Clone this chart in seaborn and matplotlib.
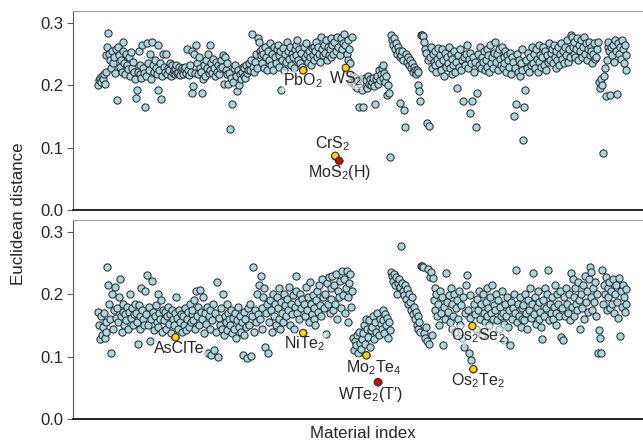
import pandas as pd
import matplotlib.pyplot as plt
import seaborn as sns

OUTPUT_PATH = "out.png"

# Euclidean distance per material, upper panel (one row ~ ten materials)
TOP_DISTANCE = [
    0.200, 0.208, 0.212, 0.205, 0.215, 0.210, 0.218, 0.202, 0.222, 0.248,
    0.262, 0.283, 0.250, 0.240, 0.228, 0.255, 0.235, 0.245, 0.220, 0.258,
    0.177, 0.262, 0.248, 0.230, 0.240, 0.222, 0.255, 0.270, 0.235, 0.218,
    0.250, 0.232, 0.226, 0.245, 0.215, 0.253, 0.228, 0.238, 0.222, 0.210,
    0.180, 0.193, 0.222, 0.255, 0.218, 0.232, 0.212, 0.265, 0.228, 0.220,
    0.165, 0.215, 0.268, 0.235, 0.225, 0.250, 0.210, 0.270, 0.232, 0.222,
    0.240, 0.228, 0.218, 0.265, 0.192, 0.225, 0.235, 0.178, 0.215, 0.250,
    0.230, 0.222, 0.250, 0.218, 0.228, 0.225, 0.235, 0.215, 0.232, 0.220,
    0.225, 0.218, 0.228, 0.232, 0.220, 0.222, 0.230, 0.216, 0.224, 0.228,
    0.218, 0.226, 0.230, 0.220, 0.258, 0.225, 0.216, 0.232, 0.222, 0.255,
    0.188, 0.198, 0.250, 0.220, 0.265, 0.235, 0.218, 0.245, 0.228, 0.222,
    0.188, 0.210, 0.232, 0.215, 0.240, 0.228, 0.250, 0.220, 0.265, 0.225,
    0.235, 0.220, 0.242, 0.228, 0.215, 0.238, 0.222, 0.232, 0.218, 0.228,
    0.240, 0.230, 0.248, 0.202, 0.245, 0.225, 0.218, 0.235, 0.202, 0.220,
    0.130, 0.212, 0.170, 0.205, 0.228, 0.232, 0.215, 0.190, 0.225, 0.200,
    0.218, 0.210, 0.222, 0.230, 0.215, 0.228, 0.212, 0.232, 0.220, 0.225,
    0.235, 0.225, 0.240, 0.282, 0.230, 0.222, 0.238, 0.250, 0.228, 0.275,
    0.270, 0.255, 0.248, 0.235, 0.258, 0.250, 0.228, 0.262, 0.245, 0.225,
    0.255, 0.240, 0.268, 0.232, 0.250, 0.225, 0.262, 0.245, 0.235, 0.258,
    0.265, 0.248, 0.230, 0.255, 0.192, 0.240, 0.260, 0.225, 0.250, 0.238,
    0.270, 0.255, 0.242, 0.262, 0.232, 0.250, 0.245, 0.228, 0.258, 0.265,
    0.248, 0.272, 0.240, 0.258, 0.235, 0.252, 0.230, 0.224, 0.262, 0.245,
    0.268, 0.250, 0.238, 0.255, 0.245, 0.232, 0.260, 0.248, 0.262, 0.240,
    0.255, 0.270, 0.245, 0.262, 0.250, 0.238, 0.278, 0.258, 0.248, 0.265,
    0.252, 0.272, 0.240, 0.262, 0.248, 0.258, 0.275, 0.245, 0.265, 0.250,
    0.270, 0.087, 0.255, 0.278, 0.262, 0.079, 0.248, 0.275, 0.258, 0.268,
    0.282, 0.265, 0.228, 0.250, 0.272, 0.240, 0.258, 0.235, 0.205, 0.278,
    0.215, 0.205, 0.198, 0.212, 0.195, 0.208, 0.165, 0.202, 0.210, 0.192,
    0.165, 0.205, 0.212, 0.198, 0.208, 0.195, 0.215, 0.202, 0.210, 0.200,
    0.205, 0.212, 0.198, 0.170, 0.210, 0.215, 0.202, 0.225, 0.208, 0.218,
    0.228, 0.212, 0.232, 0.220, 0.205, 0.215, 0.185, 0.200, 0.188, 0.085,
    0.280, 0.272, 0.265, 0.275, 0.258, 0.268, 0.250, 0.262, 0.255, 0.245,
    0.172, 0.248, 0.255, 0.240, 0.160, 0.133, 0.250, 0.238, 0.245, 0.232,
    0.240, 0.228, 0.235, 0.222, 0.230, 0.225, 0.218, 0.225, 0.200, 0.222,
    0.190, 0.175, 0.280, 0.281, 0.279, 0.270, 0.258, 0.252, 0.140, 0.240,
    0.135, 0.245, 0.262, 0.228, 0.250, 0.238, 0.232, 0.255, 0.222, 0.242,
    0.260, 0.235, 0.248, 0.225, 0.258, 0.240, 0.215, 0.252, 0.230, 0.245,
    0.235, 0.262, 0.228, 0.250, 0.218, 0.242, 0.232, 0.255, 0.222, 0.238,
    0.195, 0.248, 0.230, 0.258, 0.225, 0.240, 0.175, 0.245, 0.232, 0.250,
    0.265, 0.228, 0.242, 0.155, 0.252, 0.235, 0.175, 0.245, 0.222, 0.238,
    0.133, 0.188, 0.250, 0.232, 0.262, 0.228, 0.245, 0.238, 0.255, 0.225,
    0.240, 0.258, 0.230, 0.248, 0.222, 0.265, 0.235, 0.245, 0.228, 0.252,
    0.270, 0.238, 0.250, 0.225, 0.258, 0.242, 0.232, 0.262, 0.228, 0.245,
    0.235, 0.255, 0.222, 0.248, 0.240, 0.230, 0.252, 0.218, 0.245, 0.238,
    0.151, 0.228, 0.170, 0.250, 0.222, 0.240, 0.215, 0.235, 0.258, 0.225,
    0.112, 0.165, 0.193, 0.240, 0.228, 0.252, 0.222, 0.245, 0.232, 0.262,
    0.235, 0.250, 0.228, 0.258, 0.242, 0.222, 0.265, 0.238, 0.248, 0.230,
    0.245, 0.262, 0.232, 0.255, 0.225, 0.248, 0.238, 0.268, 0.240, 0.252,
    0.258, 0.235, 0.265, 0.245, 0.228, 0.255, 0.240, 0.262, 0.232, 0.250,
    0.268, 0.242, 0.255, 0.235, 0.262, 0.248, 0.272, 0.238, 0.258, 0.245,
    0.280, 0.278, 0.262, 0.250, 0.270, 0.245, 0.258, 0.275, 0.240, 0.265,
    0.255, 0.272, 0.245, 0.262, 0.278, 0.250, 0.268, 0.240, 0.258, 0.270,
    0.248, 0.262, 0.255, 0.235, 0.250, 0.268, 0.242, 0.245, 0.258, 0.270,
    0.205, 0.195, 0.210, 0.200, 0.092, 0.215, 0.228, 0.183, 0.240, 0.262,
    0.270, 0.255, 0.185, 0.262, 0.248, 0.265, 0.238, 0.272, 0.255, 0.186,
    0.268, 0.250, 0.262, 0.242, 0.272, 0.258, 0.235, 0.265, 0.248, 0.225,
]

# Euclidean distance per material, lower panel
BOTTOM_DISTANCE = [
    0.172, 0.150, 0.128, 0.165, 0.135, 0.148, 0.170, 0.130, 0.155, 0.140,
    0.243, 0.215, 0.185, 0.160, 0.106, 0.200, 0.145, 0.175, 0.212, 0.162,
    0.178, 0.155, 0.195, 0.224, 0.165, 0.140, 0.185, 0.172, 0.150, 0.168,
    0.158, 0.180, 0.145, 0.172, 0.200, 0.162, 0.178, 0.150, 0.168, 0.185,
    0.170, 0.155, 0.120, 0.182, 0.165, 0.145, 0.210, 0.175, 0.160, 0.150,
    0.205, 0.168, 0.231, 0.150, 0.180, 0.125, 0.160, 0.222, 0.172, 0.142,
    0.165, 0.182, 0.155, 0.200, 0.148, 0.170, 0.160, 0.190, 0.140, 0.175,
    0.158, 0.172, 0.145, 0.165, 0.180, 0.152, 0.168, 0.138, 0.175, 0.160,
    0.150, 0.170, 0.131, 0.196, 0.162, 0.145, 0.175, 0.155, 0.168, 0.140,
    0.165, 0.150, 0.178, 0.142, 0.160, 0.172, 0.148, 0.185, 0.155, 0.168,
    0.175, 0.158, 0.190, 0.145, 0.205, 0.165, 0.180, 0.150, 0.207, 0.172,
    0.160, 0.195, 0.138, 0.170, 0.152, 0.180, 0.106, 0.165, 0.145, 0.175,
    0.102, 0.158, 0.185, 0.110, 0.170, 0.140, 0.219, 0.100, 0.162, 0.150,
    0.178, 0.145, 0.200, 0.135, 0.165, 0.155, 0.185, 0.142, 0.170, 0.160,
    0.150, 0.175, 0.138, 0.162, 0.145, 0.170, 0.130, 0.158, 0.180, 0.148,
    0.165, 0.140, 0.155, 0.103, 0.172, 0.135, 0.160, 0.148, 0.098, 0.178,
    0.150, 0.185, 0.101, 0.165, 0.243, 0.140, 0.175, 0.155, 0.200, 0.168,
    0.215, 0.160, 0.230, 0.178, 0.145, 0.195, 0.210, 0.116, 0.170, 0.185,
    0.105, 0.155, 0.190, 0.175, 0.140, 0.200, 0.165, 0.185, 0.150, 0.195,
    0.178, 0.160, 0.210, 0.145, 0.188, 0.170, 0.155, 0.200, 0.182, 0.165,
    0.192, 0.175, 0.212, 0.150, 0.185, 0.168, 0.198, 0.145, 0.180, 0.205,
    0.230, 0.170, 0.188, 0.160, 0.200, 0.178, 0.192, 0.138, 0.185, 0.165,
    0.212, 0.175, 0.195, 0.155, 0.220, 0.185, 0.168, 0.198, 0.178, 0.160,
    0.151, 0.190, 0.205, 0.172, 0.215, 0.182, 0.165, 0.225, 0.195, 0.178,
    0.200, 0.137, 0.218, 0.185, 0.228, 0.170, 0.210, 0.192, 0.230, 0.175,
    0.215, 0.185, 0.232, 0.160, 0.205, 0.195, 0.222, 0.178, 0.238, 0.198,
    0.225, 0.170, 0.210, 0.237, 0.155, 0.195, 0.218, 0.232, 0.180, 0.205,
    0.130, 0.110, 0.125, 0.118, 0.135, 0.105, 0.140, 0.122, 0.112, 0.128,
    0.138, 0.150, 0.120, 0.160, 0.102, 0.145, 0.132, 0.158, 0.115, 0.142,
    0.148, 0.165, 0.128, 0.155, 0.140, 0.170, 0.059, 0.135, 0.160, 0.152,
    0.145, 0.175, 0.158, 0.138, 0.168, 0.150, 0.162, 0.130, 0.155, 0.142,
    0.236, 0.230, 0.222, 0.233, 0.215, 0.228, 0.200, 0.218, 0.225, 0.210,
    0.212, 0.277, 0.218, 0.205, 0.198, 0.215, 0.192, 0.208, 0.185, 0.200,
    0.188, 0.175, 0.195, 0.168, 0.180, 0.160, 0.172, 0.150, 0.165, 0.145,
    0.155, 0.140, 0.245, 0.246, 0.244, 0.138, 0.130, 0.148, 0.125, 0.240,
    0.121, 0.228, 0.235, 0.135, 0.226, 0.190, 0.210, 0.175, 0.200, 0.165,
    0.185, 0.150, 0.205, 0.170, 0.195, 0.119, 0.180, 0.160, 0.234, 0.188,
    0.172, 0.198, 0.155, 0.210, 0.145, 0.185, 0.165, 0.200, 0.140, 0.178,
    0.190, 0.160, 0.205, 0.150, 0.182, 0.130, 0.195, 0.116, 0.170, 0.215,
    0.231, 0.175, 0.105, 0.198, 0.162, 0.095, 0.149, 0.080, 0.185, 0.168,
    0.145, 0.192, 0.175, 0.205, 0.160, 0.185, 0.135, 0.200, 0.170, 0.155,
    0.188, 0.165, 0.210, 0.178, 0.150, 0.195, 0.170, 0.215, 0.160, 0.182,
    0.175, 0.200, 0.158, 0.190, 0.145, 0.180, 0.165, 0.205, 0.170, 0.152,
    0.127, 0.185, 0.165, 0.195, 0.148, 0.175, 0.119, 0.188, 0.160, 0.178,
    0.200, 0.170, 0.239, 0.155, 0.185, 0.165, 0.195, 0.148, 0.178, 0.160,
    0.182, 0.158, 0.200, 0.170, 0.145, 0.190, 0.175, 0.210, 0.162, 0.185,
    0.234, 0.168, 0.195, 0.152, 0.180, 0.205, 0.160, 0.188, 0.172, 0.148,
    0.128, 0.190, 0.165, 0.210, 0.178, 0.200, 0.239, 0.158, 0.185, 0.170,
    0.195, 0.160, 0.180, 0.215, 0.170, 0.150, 0.200, 0.185, 0.165, 0.205,
    0.132, 0.178, 0.127, 0.195, 0.165, 0.210, 0.185, 0.170, 0.200, 0.158,
    0.234, 0.180, 0.225, 0.195, 0.165, 0.210, 0.185, 0.175, 0.220, 0.190,
    0.145, 0.200, 0.178, 0.215, 0.160, 0.230, 0.188, 0.205, 0.172, 0.225,
    0.244, 0.195, 0.235, 0.175, 0.210, 0.188, 0.220, 0.165, 0.200, 0.105,
    0.143, 0.130, 0.105, 0.239, 0.185, 0.215, 0.200, 0.228, 0.175, 0.210,
    0.195, 0.220, 0.178, 0.205, 0.185, 0.225, 0.170, 0.200, 0.215, 0.188,
    0.162, 0.226, 0.133, 0.205, 0.180, 0.215, 0.195, 0.172, 0.208, 0.185,
]

# highlighted materials (index into the arrays above)
TOP_NAMES = ["PbO$_2$", "WS$_2$", "CrS$_2$", "MoS$_2$(H)"]
TOP_INDEX = [217, 262, 251, 255]
TOP_COLORS = ["#ffd200", "#ffd200", "#ffd200", "#e00000"]
TOP_OFFSETS = [(0, -11), (0, -11), (-2, 5), (0, -11.5)]

BOTTOM_NAMES = ["AsClTe", "NiTe$_2$", "Mo$_2$Te$_4$", "WTe$_2$(T\u2032)",
                "Os$_2$Se$_2$", "Os$_2$Te$_2$"]
BOTTOM_INDEX = [82, 217, 284, 296, 396, 397]
BOTTOM_COLORS = ["#ffd200", "#ffd200", "#ffd200", "#e00000", "#ffd200", "#ffd200"]
BOTTOM_OFFSETS = [(3, -11), (1, -11), (5, -12), (-5, -12), (4, -10), (3, -11.5)]

YTICKS = [0.0, 0.1, 0.2, 0.3]
POINT_FILL = "#a9d8e2"
POINT_EDGE = "#2a2a2a"


def draw_panel(ax, values, names, index, colors, offsets):
    df = pd.DataFrame({"material": range(len(values)), "distance": values})
    sns.scatterplot(data=df, x="material", y="distance", ax=ax,
                    color=POINT_FILL, edgecolor=POINT_EDGE, linewidth=0.75,
                    s=27, zorder=2, legend=False)

    hl = df.loc[index].copy()
    hl["color"] = colors
    ax.scatter(hl["material"], hl["distance"], c=hl["color"],
               edgecolors=POINT_EDGE, linewidths=0.75, s=27, zorder=6)
    for name, (x, y), off in zip(names, hl[["material", "distance"]].values, offsets):
        ax.annotate(name, (x, y), xytext=off, textcoords="offset points",
                    ha="center", va="baseline", fontsize=11.5, zorder=5,
                    bbox=dict(boxstyle="square,pad=0.05", facecolor="white",
                              alpha=0.55, edgecolor="none"))

    ax.set_xlim(-26.4, 578.6)
    ax.set_ylim(0, 0.319)
    ax.set_yticks(YTICKS)
    ax.set_yticklabels([f"{t:.1f}" for t in YTICKS])
    ax.set_xticks([])
    ax.set_xlabel("")
    ax.set_ylabel("")
    ax.spines["right"].set_visible(False)
    ax.spines["top"].set_color("#9a9a9a")
    ax.spines["left"].set_color("#5a5a5a")
    ax.spines["bottom"].set_color("black")
    ax.spines["bottom"].set_linewidth(1.2)
    ax.tick_params(axis="y", length=4, width=0.8, color="#5a5a5a",
                   labelsize=12, pad=3, left=True)


def main():
    sns.set_style("white")
    plt.rcParams["font.family"] = ["Liberation Sans", "DejaVu Sans"]
    plt.rcParams["mathtext.fontset"] = "custom"
    plt.rcParams["mathtext.rm"] = "Liberation Sans"
    plt.rcParams["mathtext.default"] = "rm"

    fig = plt.figure(figsize=(6.43, 4.41), dpi=100)
    ax_top = fig.add_axes([0.1135, 0.5238, 0.8896, 0.4512])
    ax_bot = fig.add_axes([0.1135, 0.0499, 0.8896, 0.4512])

    draw_panel(ax_top, TOP_DISTANCE, TOP_NAMES, TOP_INDEX, TOP_COLORS, TOP_OFFSETS)
    draw_panel(ax_bot, BOTTOM_DISTANCE, BOTTOM_NAMES, BOTTOM_INDEX,
               BOTTOM_COLORS, BOTTOM_OFFSETS)

    fig.text(0.028, 0.5145, "Euclidean distance", rotation=90,
             ha="center", va="center", fontsize=12.2)
    fig.text(0.565, 0.018, "Material index", ha="center", va="center", fontsize=12.2)

    fig.savefig(OUTPUT_PATH, dpi=100)
    plt.close(fig)


if __name__ == "__main__":
    main()
